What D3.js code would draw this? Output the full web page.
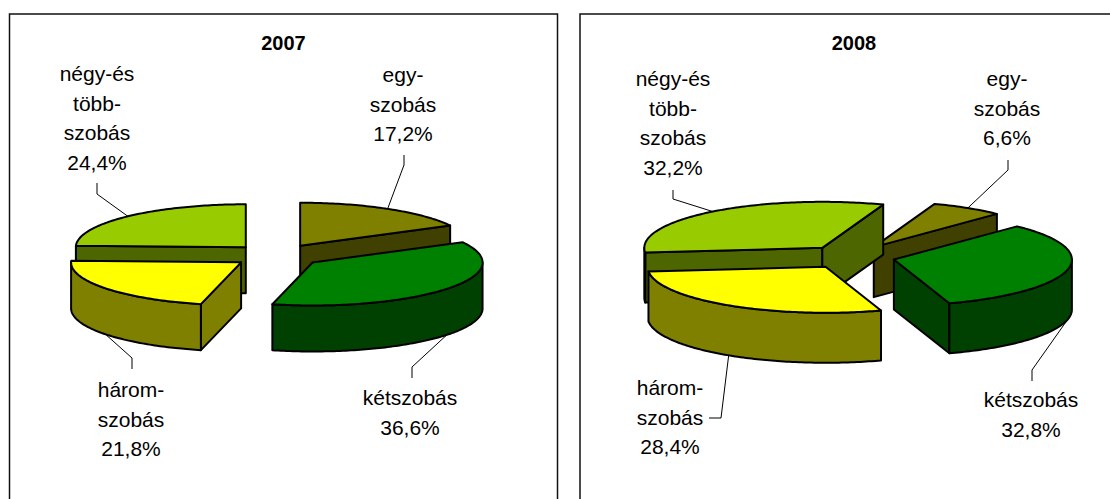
<!DOCTYPE html>
<html>
<head>
<meta charset="utf-8">
<script src="https://cdn.jsdelivr.net/npm/d3@7"></script>
<style>
  body { margin: 0; background: #fff; }
  text { font-family: Arial, "Liberation Sans", sans-serif; fill: #000; }
</style>
</head>
<body>
<svg id="chart" width="1110" height="499"></svg>
<script>
// data
var categories = ["egy-szobás", "kétszobás", "háromszobás", "négy-és többszobás"];
var labelLines = [["egy-", "szobás"], ["kétszobás"], ["három-", "szobás"], ["négy-és", "több-", "szobás"]];
var years = ["2007", "2008"];
var values2007 = [17.2, 36.6, 21.8, 24.4];
var values2008 = [6.6, 32.8, 28.4, 32.2];
var topColors = ["#808000", "#008000", "#ffff00", "#99cc00"];
var sideColors = ["#404000", "#004000", "#808000", "#4d6600"];

var huFmt = d3.formatLocale({decimal: ",", thousands: " ", grouping: [3], currency: ["", " Ft"]}).format(".1f");

// layout of the two chart areas
var panels = [
  { x: 9.5, values: values2007, year: years[0],
    cx: 277, cy: 255.5, rx: 170, ry: 43, h: 46, explode: 45, rot: 0,
    labels: [
      {x: 403, y: 82,  elbow: [404, 165], end: [404, 155]},
      {x: 410, y: 405, elbow: [412, 367], end: [412, 378]},
      {x: 131, y: 397, elbow: [132, 358], end: [132, 369]},
      {x: 97,  y: 81,  elbow: [97, 194],  end: [97, 183]}
    ] },
  { x: 580, values: values2008, year: years[1],
    cx: 850, cy: 257, rx: 178, ry: 46, h: 50, explode: 45, rot: 20 * Math.PI / 180,
    labels: [
      {x: 1007, y: 86,  elbow: [1008, 170], end: [1008, 160]},
      {x: 1031, y: 407, elbow: [1032, 370], end: [1032, 381]},
      {x: 670,  y: 395, elbow: [721, 418],  end: [709, 418]},
      {x: 673,  y: 86,  elbow: [673, 199],  end: [673, 190]}
    ] }
];

var svg = d3.select("#chart");
var line = d3.line();
var lineH = 29.5;

panels.forEach(function(p) {
  var g = svg.append("g");

  g.append("rect")
    .attr("x", p.x).attr("y", 14)
    .attr("width", 548).attr("height", 520)
    .attr("fill", "none").attr("stroke", "#111").attr("stroke-width", 1.5);

  g.append("text")
    .attr("x", p.x + 274).attr("y", 50)
    .attr("text-anchor", "middle")
    .style("font-size", "20px").style("font-weight", "bold")
    .text(p.year);

  var arcs = d3.pie().sort(null)
    .startAngle(p.rot).endAngle(p.rot + 2 * Math.PI)(p.values);

  function pt(c, a, dy) {
    return [c[0] + p.rx * Math.sin(a), c[1] - p.ry * Math.cos(a) + (dy || 0)];
  }
  function arcPts(c, a0, a1, dy) {
    var n = Math.max(2, Math.ceil(Math.abs(a1 - a0) / (Math.PI / 180)));
    var out = [];
    for (var i = 0; i <= n; i++) out.push(pt(c, a0 + (a1 - a0) * i / n, dy));
    return out;
  }

  var slices = arcs.map(function(a, i) {
    var mid = (a.startAngle + a.endAngle) / 2;
    var c = [p.cx + p.explode * Math.sin(mid),
             p.cy - p.explode * (p.ry / p.rx) * Math.cos(mid)];
    return {i: i, a0: a.startAngle, a1: a.endAngle, mid: mid, c: c};
  });

  // back to front
  var order = slices.slice().sort(function(a, b) { return a.c[1] - b.c[1]; });

  order.forEach(function(s) {
    var sg = g.append("g");
    var c = s.c, cb = [c[0], c[1] + p.h];
    var style = function(sel, fill) {
      sel.attr("fill", fill).attr("stroke", "#000")
        .attr("stroke-width", 2).attr("stroke-linejoin", "round");
    };

    // radial cut faces
    if (Math.sin(s.a0) < -0.001) {
      var r0 = pt(c, s.a0);
      sg.append("path")
        .attr("d", line([c, r0, [r0[0], r0[1] + p.h], cb]) + "Z")
        .call(style, sideColors[s.i]);
    }
    if (Math.sin(s.a1) > 0.001) {
      var r1 = pt(c, s.a1);
      sg.append("path")
        .attr("d", line([c, r1, [r1[0], r1[1] + p.h], cb]) + "Z")
        .call(style, sideColors[s.i]);
    }

    // outer wall, front half only
    for (var k = -1; k <= 1; k++) {
      var lo = Math.max(s.a0, Math.PI / 2 + 2 * Math.PI * k);
      var hi = Math.min(s.a1, 3 * Math.PI / 2 + 2 * Math.PI * k);
      if (hi > lo) {
        var top = arcPts(c, lo, hi, 0);
        var bot = arcPts(c, hi, lo, p.h);
        sg.append("path")
          .attr("d", line(top.concat(bot)) + "Z")
          .call(style, sideColors[s.i]);
      }
    }

    // top face
    sg.append("path")
      .attr("d", line([c].concat(arcPts(c, s.a0, s.a1, 0))) + "Z")
      .call(style, topColors[s.i]);
  });

  // labels and leader lines
  slices.forEach(function(s) {
    var L = p.labels[s.i];
    var front = Math.cos(s.mid) < 0;
    var start = pt(s.c, s.mid, front ? p.h : 0);
    g.append("path")
      .attr("d", line([start, L.elbow, L.end]))
      .attr("fill", "none").attr("stroke", "#000").attr("stroke-width", 1);

    var lines = labelLines[s.i].concat([huFmt(p.values[s.i]) + "%"]);
    var t = g.append("text")
      .attr("text-anchor", "middle")
      .style("font-size", "21px");
    lines.forEach(function(l, j) {
      t.append("tspan").attr("x", L.x).attr("y", L.y + j * lineH).text(l);
    });
  });
});
</script>
</body>
</html>
